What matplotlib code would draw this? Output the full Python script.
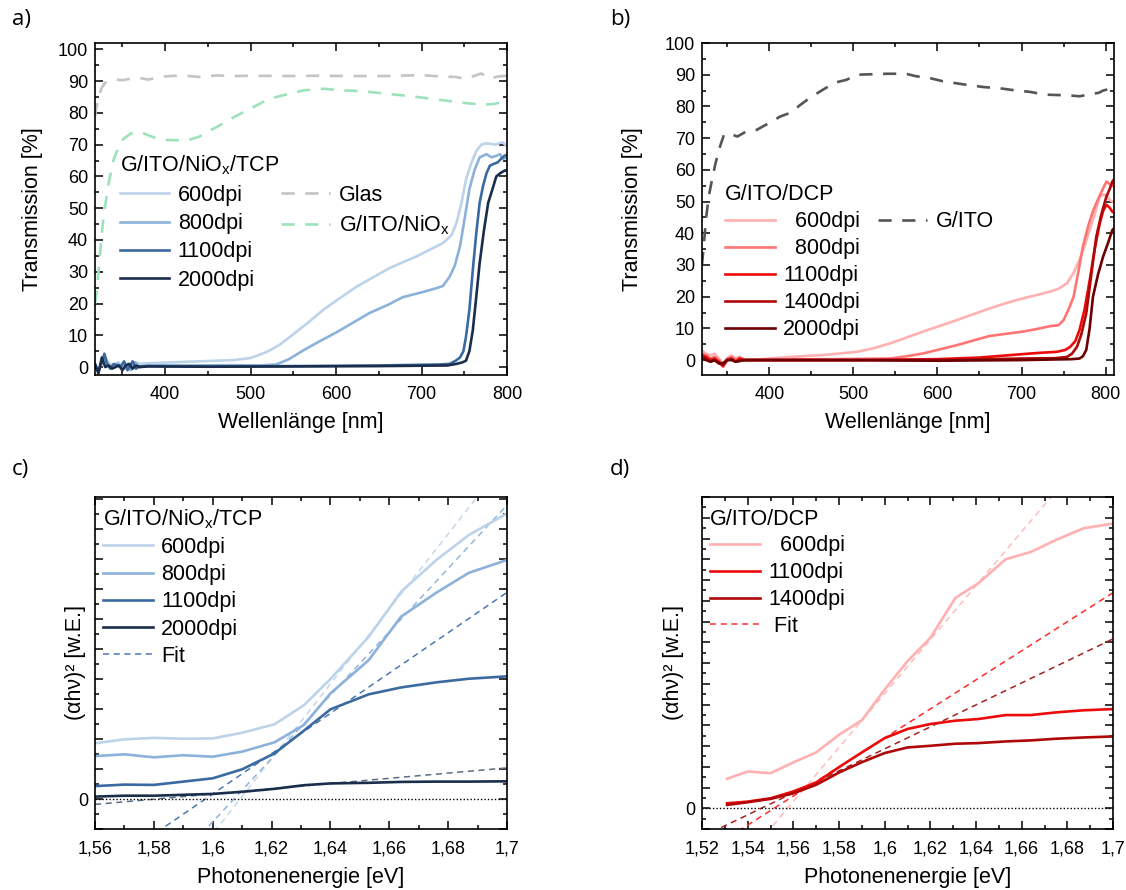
import matplotlib
matplotlib.use("Agg")
import matplotlib.pyplot as plt
from matplotlib.lines import Line2D
from matplotlib.ticker import MultipleLocator, FuncFormatter
import numpy as np

plt.rcParams['font.family'] = ['Liberation Sans', 'DejaVu Sans']
plt.rcParams['mathtext.fontset'] = 'custom'
plt.rcParams['mathtext.rm'] = 'Liberation Sans'
plt.rcParams['mathtext.it'] = 'Liberation Sans:italic'

# ---------------- Panel a data (wavelength nm, transmission %) ----------------
a_glas_wl = [318, 322, 326, 330, 340, 350, 360, 370, 380, 400, 420, 440, 460, 480, 500, 540, 580, 620, 660,
             700, 720, 740, 750, 760, 770, 780, 790, 800]
a_glas = [79, 85, 88, 89.5, 90.5, 90.3, 90.8, 91, 90.5, 91.5, 91.8, 91.3, 91.8, 91.6, 91.7, 91.6, 91.7, 91.6,
          91.6, 91.9, 91.5, 91.3, 90.8, 91.5, 92.4, 90.8, 91.5, 91.7]
a_nio_wl = [318, 320, 324, 328, 334, 340, 346, 351, 360, 371, 380, 390, 400, 425, 440, 449, 460, 476, 490, 503,
            515, 530, 545, 562, 585, 608, 625, 639, 660, 678, 695, 710, 725, 741, 755, 772, 785, 795, 800]
a_nio = [20, 24, 36, 47.5, 58, 65.5, 69.5, 71.8, 73.5, 74, 73, 72, 71.5, 71.3, 72.5, 74, 75.5, 78, 80, 81.8,
         83.5, 85, 86, 87.1, 87.6, 87.1, 86.9, 86.6, 86, 85.5, 85, 84.5, 84, 83.4, 83, 82.6, 82.8, 83.5, 84]
a_600_wl = [318, 322, 326, 330, 335, 340, 345, 350, 355, 360, 365, 370, 380, 400, 420, 440, 460, 480, 499, 510,
            523, 535, 546, 565, 585, 605, 624, 645, 663, 680, 694, 710, 725, 735, 741, 747, 752, 758, 764, 770,
            776, 782, 787, 792, 795, 800]
a_600 = [1, -0.5, 1.5, 3, 1, 0.5, 1.5, 0.5, 1, 0, 1.5, 1, 1.2, 1.4, 1.6, 1.8, 2.0, 2.2, 2.8, 3.8, 5.3, 7.2, 9.5,
         13.5, 18, 21.8, 25.3, 28.5, 31.2, 33.2, 34.8, 37, 39, 41.5, 45.4, 52, 59, 64, 68, 70, 70.4, 70.2, 70,
         70.6, 70.7, 69.5]
a_800_wl = [318, 322, 326, 330, 335, 340, 345, 350, 355, 360, 365, 370, 380, 420, 480, 510, 530, 545, 562, 580,
            601, 620, 639, 660, 678, 700, 717, 725, 733, 739, 745, 750, 756, 762, 768, 772, 776, 782, 787.5, 792,
            795, 800]
a_800 = [0.5, -1.5, 2, 2.5, 0, 0.5, 1, -0.5, 0.5, -1, 1.5, 0, 0.5, 0.5, 0.6, 0.5, 0.8, 2.5, 5.3, 8, 11, 14, 17,
         19.5, 22, 23.5, 24.8, 25.5, 28.5, 32, 38, 46, 56, 62, 66, 66.5, 67, 66, 66.5, 67, 65.5, 66]
a_1100_wl = [318, 322, 326, 329, 332, 336, 340, 344, 348, 352, 356, 362, 366, 370, 380, 450, 550, 650, 720, 733,
             740, 745, 749, 752, 756, 760, 764, 768, 772, 776, 780, 785, 789, 793, 797, 800]
a_1100 = [0.5, -1.5, 1.5, 4.2, 1, -0.5, 1, 0.5, 0, 1.8, -1, 1.8, -0.5, 0.2, 0.3, 0.2, 0.3, 0.5, 0.8, 1, 2, 3, 5,
          9.5, 18, 30.6, 42, 51.7, 57, 61, 63.4, 64, 64.4, 65.5, 66.5, 66.8]
a_2000_wl = [318, 322, 326, 330, 334, 338, 342, 346, 350, 354, 358, 362, 366, 370, 380, 450, 550, 650, 730, 741,
             748, 752, 756, 760, 764, 768, 773, 778, 783, 787.5, 792, 797, 800]
a_2000 = [1, -2, 3, 0, 0.5, -0.5, 0, 0.5, -1, 0.5, 1, -0.5, 0.5, 0, 0.2, 0.1, 0.2, 0.3, 0.5, 1, 1.5, 2, 5, 11.6,
          22, 32.7, 43, 51.7, 56, 60, 61, 61.8, 62]

# ---------------- Panel b data ----------------
b_ito_wl = [320, 322, 325, 328, 332, 336, 341, 346, 352, 362, 372, 385, 398, 413, 425, 437, 450, 464, 478, 492,
            504, 516, 528, 540, 552, 564, 575, 590, 607, 630, 655, 675, 694, 710, 718, 730, 742, 755, 769, 777,
            785, 792, 797, 803, 807, 810]
b_ito = [30, 36, 45, 51.6, 57, 62, 67, 71, 71.5, 70.5, 72, 72.6, 74.5, 76.8, 78, 80.5, 83, 85.3, 87.5, 88.4, 90,
         90.1, 90.2, 90.3, 90.3, 90.2, 89.5, 89, 87.9, 87, 86.1, 85.7, 85, 84.6, 84.2, 83.7, 83.6, 83.5, 83.2,
         83.6, 84, 84.3, 85, 85.4, 84.7, 85]
b_600_wl = [320, 325, 330, 335, 340, 345, 350, 355, 360, 365, 370, 385, 425, 464, 504, 525, 544, 563, 583, 603,
            623, 643, 662, 682, 702, 718, 734, 744, 754, 762, 769, 775, 781, 787, 793, 797, 801, 805, 808, 810]
b_600 = [3, 2, 1.5, 2, 0.5, -1, 0.5, 1.5, 0.5, 1, 0.3, 0.2, 1, 1.6, 2.6, 3.8, 5.3, 7.1, 9, 10.8, 12.6, 14.5, 16.3,
         18, 19.5, 20.5, 21.6, 22.5, 24.2, 27.5, 31.6, 36, 41, 46, 51.6, 52.2, 52, 50.5, 50, 50]
b_800_wl = [320, 325, 330, 335, 340, 345, 350, 355, 360, 365, 370, 400, 480, 544, 563, 583, 603, 623, 643, 662,
            682, 702, 718, 734, 744, 750, 756, 762, 767, 773, 779, 785, 789, 795, 801, 805, 810]
b_800 = [2, 1.5, 0.5, 1, 0, -1.5, 0.5, 1, 0, 0.8, 0, 0.2, 0.3, 0.5, 1.2, 2.1, 3.4, 4.7, 6.2, 7.6, 8.3, 9, 9.8,
         10.7, 11, 12.6, 16, 20, 27, 35.8, 42, 47, 49.5, 53, 56.3, 55.5, 54.7]
b_1100_wl = [320, 325, 330, 335, 340, 345, 350, 355, 360, 365, 370, 400, 500, 600, 650, 702, 722, 742, 752, 758,
             764, 769, 775, 781, 787, 793, 797, 801, 805, 808, 810]
b_1100 = [1.5, 1, 0, 0.5, -0.5, -2, 0, 0.5, -0.5, 0.5, 0, 0, 0, 0.3, 0.8, 1.9, 2.3, 2.6, 3.2, 4.2, 6, 9.5, 16, 25,
          35, 43, 47, 49, 48, 46.8, 46.5]
b_1400_wl = [320, 325, 330, 335, 340, 345, 350, 355, 360, 370, 400, 500, 600, 700, 740, 754, 760, 766, 771, 777,
             783, 789, 795, 801, 805, 808, 810]
b_1400 = [1, 0.5, -0.5, 0, -1, -1.5, 0, 0.3, -0.5, 0, 0, 0, 0, 0.5, 0.6, 1, 2, 4.2, 8, 14.7, 27, 39, 46, 51.6,
          54, 56.3, 57]
b_2000_wl = [320, 325, 330, 335, 340, 345, 350, 355, 360, 370, 400, 500, 600, 700, 760, 769, 773, 777, 781, 785,
             791, 797, 803, 808, 810]
b_2000 = [0.5, 0, -0.5, 0, -1, -1, 0, 0, -0.5, 0, 0, 0, -0.2, 0, 0.3, 0.5, 1.2, 3.2, 10, 20, 27, 32.6, 37, 41,
          41.5]

# ---------------- Panel c data (photon energy eV, arb. units) ----------------
c_e = [1.560, 1.570, 1.580, 1.590, 1.600, 1.610, 1.621, 1.631, 1.640, 1.653, 1.664, 1.676, 1.687, 1.700]
c_600 = [1.86, 1.99, 2.04, 2.01, 2.02, 2.21, 2.49, 3.13, 4.00, 5.41, 6.91, 7.97, 8.80, 9.52]
c_800 = [1.43, 1.49, 1.39, 1.46, 1.41, 1.58, 1.89, 2.47, 3.52, 4.63, 6.08, 6.88, 7.54, 7.97]
c_1100 = [0.43, 0.48, 0.47, 0.58, 0.69, 0.99, 1.52, 2.28, 2.99, 3.49, 3.72, 3.89, 4.01, 4.09]
c_2000 = [0.08, 0.11, 0.11, 0.14, 0.17, 0.24, 0.34, 0.46, 0.52, 0.54, 0.57, 0.58, 0.58, 0.59]
# linear fits: (zero crossing eV, slope)
c_fit_600 = (1.6093, 125.0)
c_fit_800 = (1.6072, 105.6)
c_fit_1100 = (1.5975, 67.2)
c_fit_2000 = (1.5807, 8.7)

# ---------------- Panel d data ----------------
d_e = [1.531, 1.540, 1.550, 1.560, 1.570, 1.580, 1.590, 1.600, 1.610, 1.620, 1.631, 1.641, 1.653, 1.664, 1.675,
       1.687, 1.700]
d_600 = [1.42, 1.77, 1.69, 2.21, 2.69, 3.54, 4.24, 5.72, 7.09, 8.21, 10.14, 10.84, 12.0, 12.35, 12.93, 13.49, 13.72]
d_1100 = [0.24, 0.32, 0.48, 0.81, 1.24, 1.98, 2.69, 3.38, 3.82, 4.06, 4.22, 4.30, 4.49, 4.49, 4.62, 4.72, 4.78]
d_1400 = [0.16, 0.29, 0.45, 0.72, 1.13, 1.72, 2.22, 2.66, 2.93, 3.01, 3.11, 3.14, 3.22, 3.27, 3.35, 3.41, 3.46]
d_fit_600 = (1.5575, 130.0)
d_fit_1100 = (1.5516, 70.0)
d_fit_1400 = (1.5460, 53.0)

# ---------------- styling ----------------
A_COL = {'600': '#bcd3ea', '800': '#8cb1da', '1100': '#3a6aa0', '2000': '#1a2e4c'}
A_GLAS = '#c4c4c4'
A_NIO = '#9ce3bb'
B_COL = {'600': '#ffb0b0', '800': '#ff7474', '1100': '#ee0a0a', '1400': '#b00808', '2000': '#6e0000'}
B_ITO = '#555555'
C_FIT = {'600': '#c5d8ec', '800': '#93b6dc', '1100': '#4a78b0', '2000': '#5b6d86'}
D_FIT = {'600': '#ffbcbc', '1100': '#ff2a2a', '1400': '#a82020'}

TICK_FS = 13
LAB_FS = 15.5
LEG_FS = 15.5
LW = 1.9

fig = plt.figure(figsize=(11.26, 8.9), dpi=100)
ax_a = fig.add_axes([95 / 1126, 1 - 375 / 890, 412 / 1126, 332 / 890])
ax_b = fig.add_axes([702 / 1126, 1 - 375 / 890, 412 / 1126, 332 / 890])
ax_c = fig.add_axes([95 / 1126, 1 - 829 / 890, 412 / 1126, 332 / 890])
ax_d = fig.add_axes([702 / 1126, 1 - 829 / 890, 411 / 1126, 332 / 890])


def style(ax):
    for s in ax.spines.values():
        s.set_linewidth(1.2)
    ax.tick_params(which='both', direction='in', top=True, right=True, labelsize=TICK_FS, width=1.1)
    ax.tick_params(which='major', length=5.5)
    ax.tick_params(which='minor', length=3)
    ax.tick_params(axis='x', which='both', pad=8)
    ax.tick_params(axis='y', which='both', pad=5)


comma = FuncFormatter(lambda v, p: f"{round(v, 4):g}".replace('.', ','))
zero_only = FuncFormatter(lambda v, p: "0" if abs(v) < 1e-9 else "")
blank = Line2D([], [], color='none')
x_sub = 'G/ITO/NiO$_\\mathregular{x}$'

# ---- a ----
ax = ax_a
dash = (5, 4)
ax.plot(a_glas_wl, a_glas, color=A_GLAS, lw=LW, dashes=dash)
ax.plot(a_nio_wl, a_nio, color=A_NIO, lw=LW, dashes=dash)
for key, wl, v in [('600', a_600_wl, a_600), ('800', a_800_wl, a_800),
                   ('1100', a_1100_wl, a_1100), ('2000', a_2000_wl, a_2000)]:
    ax.plot(wl, v, color=A_COL[key], lw=LW)
ax.set_xlim(318, 800)
ax.set_ylim(-2.5, 102)
ax.xaxis.set_major_locator(MultipleLocator(100))
ax.xaxis.set_minor_locator(MultipleLocator(50))
ax.yaxis.set_major_locator(MultipleLocator(10))
ax.yaxis.set_minor_locator(MultipleLocator(5))
style(ax)
ax.set_xlabel('Wellenlänge [nm]', fontsize=LAB_FS, labelpad=6.5)
ax.set_ylabel('Transmission [%]', fontsize=LAB_FS)
ax.yaxis.set_label_coords(-0.125, 0.5)
hs = [Line2D([], [], color=A_COL[k], lw=LW) for k in ['600', '800', '1100', '2000']]
hs += [Line2D([], [], color=A_GLAS, lw=LW, dashes=dash), Line2D([], [], color=A_NIO, lw=LW, dashes=dash),
       blank, blank]
labs = ['600dpi', '800dpi', '1100dpi', '2000dpi', 'Glas', x_sub, '', '']
ax.legend(hs, labs, title=x_sub + '/TCP', title_fontsize=LEG_FS, fontsize=LEG_FS, ncol=2, frameon=False,
          loc='upper left', bbox_to_anchor=(0.06, 0.666), alignment='left', handlelength=2.3,
          handletextpad=0.4, labelspacing=0.34, columnspacing=1.2, borderpad=0, borderaxespad=0)

# ---- b ----
ax = ax_b
ax.plot(b_ito_wl, b_ito, color=B_ITO, lw=LW, dashes=dash)
for key, wl, v in [('600', b_600_wl, b_600), ('800', b_800_wl, b_800), ('1100', b_1100_wl, b_1100),
                   ('1400', b_1400_wl, b_1400), ('2000', b_2000_wl, b_2000)]:
    ax.plot(wl, v, color=B_COL[key], lw=LW)
ax.set_xlim(320, 810)
ax.set_ylim(-4.7, 100)
ax.xaxis.set_major_locator(MultipleLocator(100))
ax.xaxis.set_minor_locator(MultipleLocator(50))
ax.yaxis.set_major_locator(MultipleLocator(10))
ax.yaxis.set_minor_locator(MultipleLocator(5))
style(ax)
ax.set_xlabel('Wellenlänge [nm]', fontsize=LAB_FS, labelpad=6.5)
ax.set_ylabel('Transmission [%]', fontsize=LAB_FS)
ax.yaxis.set_label_coords(-0.142, 0.5)
hs = [Line2D([], [], color=B_COL[k], lw=LW) for k in ['600', '800', '1100', '1400', '2000']]
hs += [Line2D([], [], color=B_ITO, lw=LW, dashes=dash), blank, blank, blank, blank]
labs = ['  600dpi', '  800dpi', '1100dpi', '1400dpi', '2000dpi', 'G/ITO', '', '', '', '']
ax.legend(hs, labs, title='G/ITO/DCP', title_fontsize=LEG_FS, fontsize=LEG_FS, ncol=2, frameon=False,
          loc='upper left', bbox_to_anchor=(0.056, 0.575), alignment='left', handlelength=2.3,
          handletextpad=0.4, labelspacing=0.28, columnspacing=0.8, borderpad=0, borderaxespad=0)

# ---- c ----
ax = ax_c
fdash = (4, 3)
ex = np.array([1.56, 1.70])
for key, (e0, k) in [('600', c_fit_600), ('800', c_fit_800), ('1100', c_fit_1100), ('2000', c_fit_2000)]:
    xs = ex.copy()
    if key in ('600', '800'):
        xs = np.array([e0 - 0.011, 1.70])
    ax.plot(xs, k * (xs - e0), color=C_FIT[key], lw=1.1, dashes=fdash)
for key, v in [('600', c_600), ('800', c_800), ('1100', c_1100), ('2000', c_2000)]:
    ax.plot(c_e, v, color=A_COL[key], lw=LW)
ax.axhline(0, color='black', lw=1.0, ls=(0, (1, 1.5)))
ax.set_xlim(1.56, 1.70)
ax.set_ylim(-1, 10.07)
ax.xaxis.set_major_locator(MultipleLocator(0.02))
ax.xaxis.set_minor_locator(MultipleLocator(0.01))
ax.xaxis.set_major_formatter(comma)
ax.yaxis.set_major_locator(MultipleLocator(1))
ax.yaxis.set_minor_locator(MultipleLocator(0.5))
ax.yaxis.set_major_formatter(zero_only)
style(ax)
ax.set_xlabel('Photonenenergie [eV]', fontsize=LAB_FS, labelpad=7)
ax.set_ylabel('(αhν)² [w.E.]', fontsize=LAB_FS)
ax.yaxis.set_label_coords(-0.022, 0.5)
hs = [Line2D([], [], color=A_COL[k], lw=LW) for k in ['600', '800', '1100', '2000']]
hs += [Line2D([], [], color='#4a7ab8', lw=1.1, dashes=fdash)]
labs = ['600dpi', '800dpi', '1100dpi', '2000dpi', 'Fit']
ax.legend(hs, labs, title=x_sub + '/TCP', title_fontsize=LEG_FS, fontsize=LEG_FS, frameon=False,
          loc='upper left', bbox_to_anchor=(0.02, 0.97), alignment='left', handlelength=2.3,
          handletextpad=0.4, labelspacing=0.29, borderpad=0, borderaxespad=0)

# ---- d ----
ax = ax_d
ex = np.array([1.52, 1.70])
for key, (e0, k) in [('600', d_fit_600), ('1100', d_fit_1100), ('1400', d_fit_1400)]:
    ax.plot(ex, k * (ex - e0), color=D_FIT[key], lw=1.1, dashes=fdash)
for key, v in [('600', d_600), ('1100', d_1100), ('1400', d_1400)]:
    ax.plot(d_e, v, color=B_COL[key], lw=LW)
ax.axhline(0, color='black', lw=1.0, ls=(0, (1, 1.5)))
ax.set_xlim(1.52, 1.70)
ax.set_ylim(-1, 15)
ax.xaxis.set_major_locator(MultipleLocator(0.02))
ax.xaxis.set_minor_locator(MultipleLocator(0.01))
ax.xaxis.set_major_formatter(comma)
ax.yaxis.set_major_locator(MultipleLocator(1))
ax.yaxis.set_minor_locator(MultipleLocator(0.5))
ax.yaxis.set_major_formatter(zero_only)
style(ax)
ax.set_xlabel('Photonenenergie [eV]', fontsize=LAB_FS, labelpad=7)
ax.set_ylabel('(αhν)² [w.E.]', fontsize=LAB_FS)
ax.yaxis.set_label_coords(-0.045, 0.5)
hs = [Line2D([], [], color=B_COL[k], lw=LW) for k in ['600', '1100', '1400']]
hs += [Line2D([], [], color='#ff3030', lw=1.1, dashes=fdash)]
labs = ['  600dpi', '1100dpi', '1400dpi', ' Fit']
ax.legend(hs, labs, title='G/ITO/DCP', title_fontsize=LEG_FS, fontsize=LEG_FS, frameon=False,
          loc='upper left', bbox_to_anchor=(0.02, 0.965), alignment='left', handlelength=2.3,
          handletextpad=0.4, labelspacing=0.27, borderpad=0, borderaxespad=0)

# panel letters
for txt, x, y in [('a)', 12, 20), ('b)', 610, 20), ('c)', 12, 470), ('d)', 610, 470)]:
    fig.text(x / 1126, 1 - y / 890, txt, fontsize=16,
             family=['Liberation Sans Narrow', 'Open Sans', 'DejaVu Sans'], va='center', ha='left')

fig.savefig('out.png', dpi=100)
